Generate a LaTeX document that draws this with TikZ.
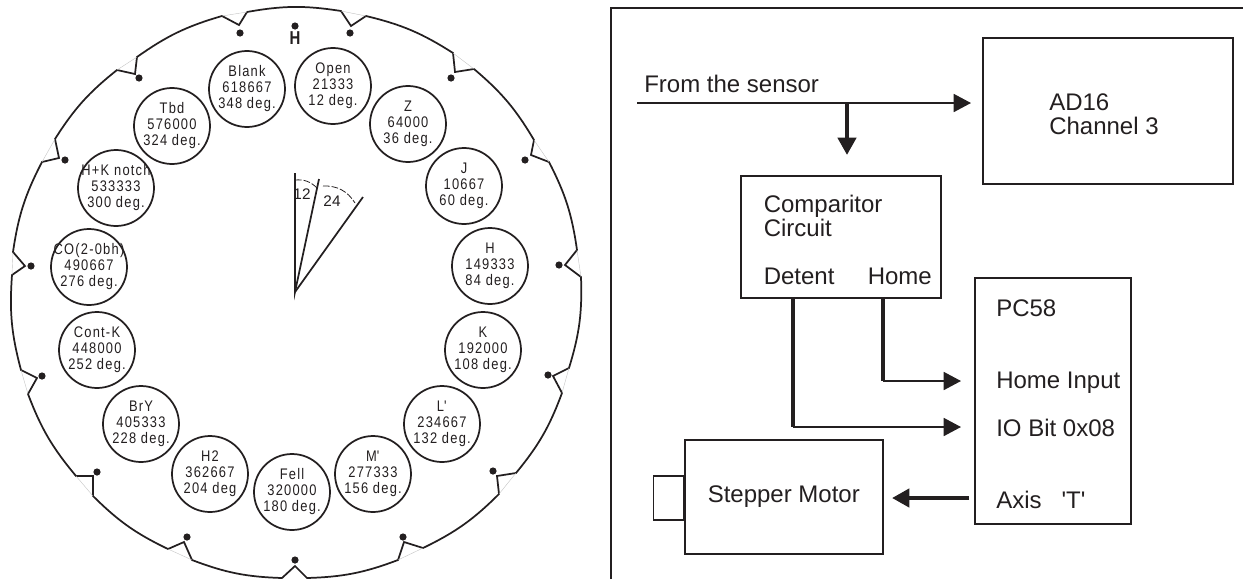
\documentclass[tikz,border=0pt]{standalone}
\usepackage{fontspec}
\usepackage{graphicx}
\usepackage{xcolor}
\usetikzlibrary{arrows.meta,calc}
\setmainfont{Liberation Sans}
\newfontfamily\slotfont[LetterSpace=8,FakeStretch=0.84]{Liberation Sans}
\definecolor{ink}{HTML}{231F20}
\definecolor{chordgray}{HTML}{C4C4C4}
\tikzset{
  every node/.style={text=ink},
  rim/.style={draw=ink, line width=1.3pt, line join=miter},
  chord/.style={draw=chordgray, line width=0.3pt},
  dotmark/.style={circle, fill=ink, inner sep=0pt, minimum size=5.4pt},
  slot/.style={circle, draw=ink, line width=1.3pt, fill=white, inner sep=0pt, minimum size=57pt},
  slotlabel/.style={font=\slotfont\fontsize{11.5}{12}\selectfont, align=center, inner sep=0pt},
  spoke/.style={draw=ink, line width=1.3pt},
  sweep/.style={draw=ink, line width=0.6pt, dash pattern=on 5pt off 1.5pt},
  panelbox/.style={draw=ink, line width=1.2pt, inner sep=0pt},
  paneltext/.style={font=\fontsize{18}{18}\selectfont, align=left, inner sep=0pt, anchor=base west},
  thinarrow/.style={-{Triangle[length=13pt,width=13.5pt]}, draw=ink, fill=ink, line width=1.3pt},
  thickarrow/.style={-{Triangle[length=13pt,width=13.5pt]}, draw=ink, fill=ink, line width=3.2pt},
  thickline/.style={draw=ink, line width=3.2pt},
}
\begin{document}
\begin{tikzpicture}[x=0.75pt,y=-0.75pt]
\useasboundingbox (0,0) rectangle (1243,579);
% filter wheel rim
\draw[rim] (247,12) to[bend left=9.5] (341,11) -- (351,26) -- (366,16) to[bend left=9.5] (453,53) -- (455,72) -- (474,69) to[bend left=9.5] (534,140) -- (531,155) -- (549,162) to[bend left=9.5] (577,250) -- (565,265) -- (581,277) to[bend left=9.5] (569,368) -- (553,376) -- (562,393) to[bend left=9.5] (516,473) -- (497,476) -- (499,494) to[bend left=9.5] (423,548) -- (404,542) -- (398,560) to[bend left=9.5] (307,578) -- (295,566) -- (282,578) to[bend left=9.5] (192,560) -- (184,542) -- (168,549) to[bend left=9.5] (93,496) -- (93,476) -- (76,476) to[bend left=9.5] (28,394) -- (37,378) -- (21,370) to[bend left=9.5] (12,275) -- (25,266) -- (13,252) to[bend left=9.5] (42,162) -- (59,158) -- (55,139) to[bend left=9.5] (117,70) -- (135,74) -- (137,57) to[bend left=9.5] (222,16) -- (239,25) -- (247,12);
\draw[chord] (341,11)--(366,16) (453,53)--(474,69) (534,140)--(549,162) (577,250)--(581,277) (569,368)--(562,393) (516,473)--(499,494) (423,548)--(398,560) (192,560)--(168,549) (93,496)--(76,476) (28,394)--(21,370) (12,275)--(13,252) (42,162)--(55,139) (117,70)--(137,57) (222,16)--(247,12);
% detents
\node[dotmark] (d0) at (295,26) {};
\node[dotmark] (d12) at (350,33) {};
\node[dotmark] (d36) at (451,78) {};
\node[dotmark] (d60) at (525,160) {};
\node[dotmark] (d84) at (559,265) {};
\node[dotmark] (d108) at (548,375) {};
\node[dotmark] (d132) at (493,471) {};
\node[dotmark] (d156) at (403,537) {};
\node[dotmark] (d180) at (295,560) {};
\node[dotmark] (d204) at (187,537) {};
\node[dotmark] (d228) at (97,472) {};
\node[dotmark] (d252) at (42,376) {};
\node[dotmark] (d276) at (31,266) {};
\node[dotmark] (d300) at (65,160) {};
\node[dotmark] (d324) at (139,78) {};
\node[dotmark] (d348) at (240,33) {};
\node[inner sep=0pt, font=\bfseries\fontsize{14}{14}\selectfont] (homemark) at (295,38) {\scalebox{0.8}[1]{H}};
% filter slots
\node[slot, label={[slotlabel]center:Open\\21333\\12 deg.}] (open) at (333,86) {};
\node[slot, label={[slotlabel]center:Z\\64000\\36 deg.}] (z) at (408,124) {};
\node[slot, label={[slotlabel]center:J\\10667\\60 deg.}] (j) at (464,186) {};
\node[slot, label={[slotlabel]center:H\\149333\\84 deg.}] (h) at (490,266) {};
\node[slot, label={[slotlabel]center:K\\192000\\108 deg.}] (k) at (483,350) {};
\node[slot, label={[slotlabel]center:L\textquotesingle\\234667\\132 deg.}] (lprime) at (442,424) {};
\node[slot, label={[slotlabel]center:M\textquotesingle\\277333\\156 deg.}] (mprime) at (373,474) {};
\node[slot, label={[slotlabel]center:Fell\\320000\\180 deg.}] (fell) at (292,492) {};
\node[slot, label={[slotlabel]center:H2\\362667\\204 deg}] (htwo) at (210,474) {};
\node[slot, label={[slotlabel]center:BrY\\405333\\228 deg.}] (bry) at (141,424) {};
\node[slot, label={[slotlabel]center:Cont-K\\448000\\252 deg.}] (contk) at (97,350) {};
\node[slot, label={[slotlabel]center:CO(2-0bh)\\490667\\276 deg.}] (co) at (89,267) {};
\node[slot, label={[slotlabel]center:H+K notch\\533333\\300 deg.}] (hk) at (116,188) {};
\node[slot, label={[slotlabel]center:Tbd\\576000\\324 deg.}] (tbd) at (172,126) {};
\node[slot, label={[slotlabel]center:Blank\\618667\\348 deg.}] (blank) at (247,89) {};
% angle sketch
\coordinate (hub) at (295,292);
\coordinate (tipa) at (295,173);
\coordinate (tipb) at (319,179);
\coordinate (tipc) at (363,197);
\draw[spoke] (tipa)--(hub)--(tipb);
\draw[spoke] (hub)--(tipc);
\draw[sweep] (295,180) to[bend left=25] (317,188);
\draw[sweep] (323,186) to[bend left=30] (355,203);
\node[inner sep=0pt, font=\fontsize{11.5}{12}\selectfont] (twelve) at (302,194) {12};
\node[inner sep=0pt, font=\fontsize{11.5}{12}\selectfont] (twentyfour) at (332,201) {24};
% block diagram
\draw[panelbox] (611,579)--(611,8)--(1243,8);
\node[panelbox, minimum width=187.5pt, minimum height=109.5pt] (adbox) at (1108,111) {};
\node[panelbox, minimum width=150pt, minimum height=91.5pt] (cmpbox) at (841,236.7) {};
\node[panelbox, minimum width=117pt, minimum height=184.5pt] (pcbox) at (1053,401) {};
\node[panelbox, minimum width=148.5pt, minimum height=85.5pt] (motorbox) at (784,497) {};
\node[panelbox, anchor=east, minimum width=22.5pt, minimum height=33pt] (shaft) at (motorbox.west |- 0,498) {};
\node[paneltext] (sensor) at (644,92) {From the sensor};
\node[paneltext] (adtext) at (1049,110) {AD16};
\node[paneltext] (adchan) at (1049,134) {Channel 3};
\node[paneltext] (cmptext) at (763.5,212) {Comparitor};
\node[paneltext] (cmpcirc) at (763.5,236) {Circuit};
\node[paneltext] (detent) at (763.5,284) {Detent};
\node[paneltext] (home) at (867.5,284) {Home};
\node[paneltext] (pctext) at (996,316) {PC58};
\node[paneltext] (homein) at (996,388) {Home Input};
\node[paneltext] (iobit) at (996,436) {IO Bit 0x08};
\node[paneltext] (axis) at (996,508) {Axis\hspace{15pt}\textquotesingle T\textquotesingle};
\node[paneltext] (motortext) at (707.5,502) {Stepper Motor};
% connectors
\coordinate (sensorin) at (637,103);
\coordinate (sensorout) at (971,103);
\coordinate (tap) at (847,103);
\coordinate (tapout) at (847,155);
\coordinate (homecorner) at (883,381);
\coordinate (homeout) at (961,381);
\coordinate (detentcorner) at (793,427);
\coordinate (detentout) at (961,427);
\coordinate (axisin) at (969,498);
\coordinate (axisout) at (892,498);
\draw[thinarrow] (sensorin)--(sensorout);
\draw[thickarrow] (tap)--(tapout);
\draw[thickline] (cmpbox.south -| homecorner)--(homecorner);
\draw[thinarrow] (homecorner)--(homeout);
\draw[thickline] (cmpbox.south -| detentcorner)--(detentcorner);
\draw[thinarrow] (detentcorner)--(detentout);
\draw[thickarrow] (axisin)--(axisout);
\end{tikzpicture}
\end{document}
